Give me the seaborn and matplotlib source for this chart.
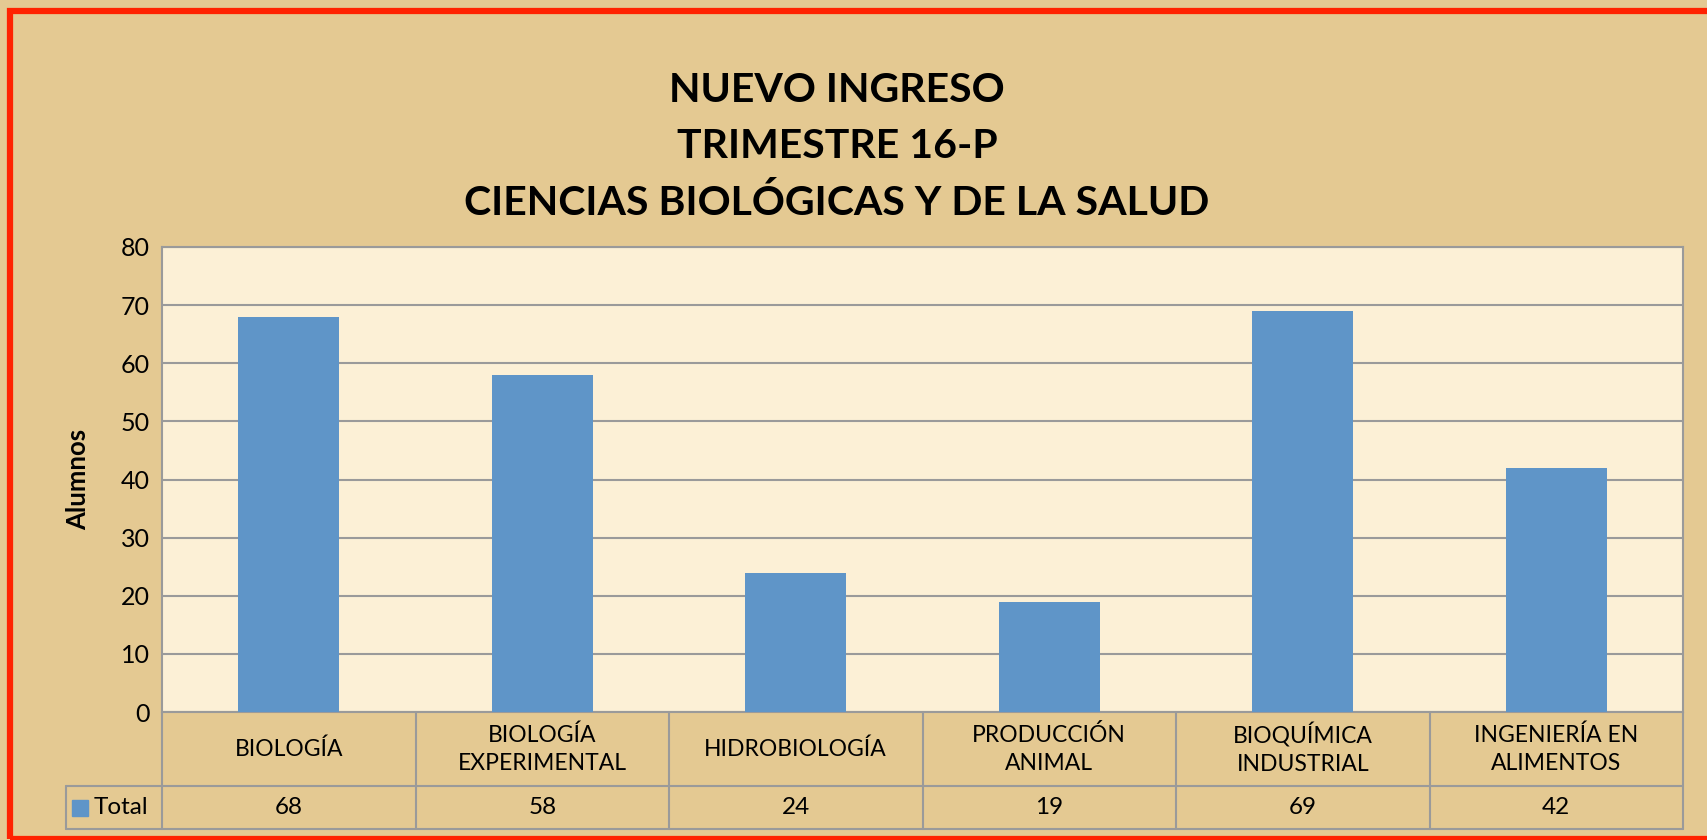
import matplotlib
matplotlib.use("Agg")
import matplotlib.pyplot as plt
from matplotlib.patches import Rectangle
import seaborn as sns

# data
carreras = ["BIOLOGÍA", "BIOLOGÍA\nEXPERIMENTAL", "HIDROBIOLOGÍA",
            "PRODUCCIÓN\nANIMAL", "BIOQUÍMICA\nINDUSTRIAL", "INGENIERÍA EN\nALIMENTOS"]
alumnos = [68, 58, 24, 19, 69, 42]
titulo = ["NUEVO INGRESO", "TRIMESTRE 16-P", "CIENCIAS BIOLÓGICAS Y DE LA SALUD"]
y_ticks = [0, 10, 20, 30, 40, 50, 60, 70, 80]

BAR = "#5F95C8"
GRID = "#9A9A9A"
PAPER = "#E4C992"
CREAM = "#FCF0D6"

sns.set_style("white")
plt.rcParams["font.family"] = ["Lato", "DejaVu Sans"]
plt.rcParams["text.color"] = "black"
plt.rcParams["ytick.color"] = "black"
plt.rcParams["axes.labelcolor"] = "black"

fig = plt.figure(figsize=(17.07, 8.4), dpi=100)
fig.patch.set_facecolor(PAPER)

# axes placed to match the plot area of the reference
ax = fig.add_axes([162 / 1707, 1 - 712 / 840, 1521 / 1707, 465 / 840])
ax.set_facecolor(CREAM)

sns.barplot(x=list(range(len(alumnos))), y=alumnos, color=BAR, width=0.4,
            saturation=1, linewidth=0, edgecolor="none", ax=ax, zorder=3)

ax.set_ylim(0, 80)
ax.set_xlim(-0.5, len(alumnos) - 0.5)
ax.set_yticks(y_ticks)
ax.set_yticklabels([str(t) for t in y_ticks], fontsize=18)
ax.tick_params(axis="y", length=0, pad=9)
ax.set_xticks([])
ax.yaxis.grid(True, color=GRID, linewidth=1.5, zorder=0)
ax.set_axisbelow(True)
for s in ax.spines.values():
    s.set_color(GRID)
    s.set_linewidth(1.5)

ax.set_ylabel("Alumnos", fontsize=18.5, fontweight="bold", labelpad=22)
ax.set_xlabel("")

# data table below the axis
row1 = -74 / 465
row2 = -117 / 465
leg_x = -96 / 1521
n = len(alumnos)
tkw = dict(transform=ax.transAxes, color=GRID, linewidth=1.5, clip_on=False)
ax.plot([leg_x, 1], [row1, row1], **tkw)
ax.plot([leg_x, 1], [row2, row2], **tkw)
ax.plot([leg_x, leg_x], [row1, row2], **tkw)
for i in range(n + 1):
    ax.plot([i / n, i / n], [0, row2], **tkw)

xt = ax.get_xaxis_transform()
for i, (name, val) in enumerate(zip(carreras, alumnos)):
    ax.text(i, row1 / 2, name, transform=xt, ha="center", va="center",
            fontsize=16.5, linespacing=1.4)
    ax.text(i, (row1 + row2) / 2, str(val), transform=xt, ha="center",
            va="center", fontsize=17.5)

# legend key inside the table
ax.plot([-82 / 1521], [(row1 + row2) / 2], marker="s", markersize=11,
        color=BAR, transform=ax.transAxes, clip_on=False)
ax.text(-68 / 1521, (row1 + row2) / 2, "Total", transform=ax.transAxes,
        ha="left", va="center", fontsize=17.5)

# three-line title
for line, base in zip(titulo, [102, 158, 215]):
    fig.text(837 / 1707, 1 - base / 840, line, ha="center", va="baseline",
             fontsize=29.5, fontweight="bold")

# red frame
fig.patches.append(Rectangle((10 / 1707, 1 - 839 / 840), 1.02, (839 - 10.5) / 840,
                             transform=fig.transFigure, fill=False,
                             edgecolor="#FF2200", linewidth=4.5))

fig.savefig("out.png", dpi=100, facecolor=fig.get_facecolor())
